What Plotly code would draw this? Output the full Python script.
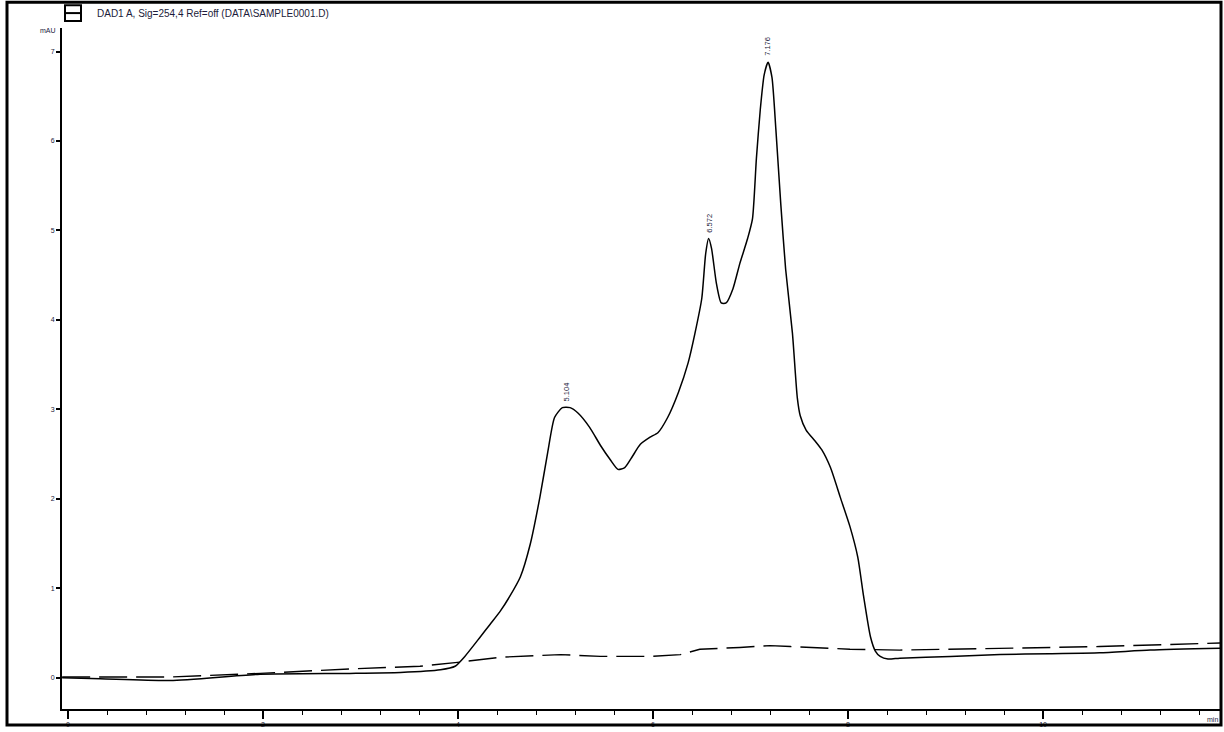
import plotly.graph_objects as go

# Retention time (min) and detector response (mAU) of the sample trace
sample_time = [-0.06, 0.33, 1.05, 1.97, 2.89, 3.41, 3.82, 3.97, 4.07, 4.23, 4.33, 4.43,
               4.53, 4.64, 4.74, 4.84, 4.92, 4.99, 5.07, 5.15, 5.23, 5.35, 5.46, 5.56,
               5.64, 5.71, 5.78, 5.87, 5.97, 6.05, 6.15, 6.26, 6.36, 6.43, 6.50, 6.54,
               6.57, 6.60, 6.65, 6.70, 6.75, 6.82, 6.89, 6.97, 7.02, 7.06, 7.10, 7.14,
               7.18, 7.22, 7.26, 7.31, 7.36, 7.43, 7.48, 7.51, 7.57, 7.66, 7.73, 7.82,
               7.92, 8.02, 8.10, 8.16, 8.23, 8.28, 8.33, 8.41, 8.53, 9.05, 9.56, 10.07,
               10.58, 11.10, 11.82]
sample_mau = [0.00, -0.01, -0.03, 0.04, 0.05, 0.06, 0.09, 0.13, 0.24, 0.46, 0.60, 0.74,
              0.91, 1.13, 1.49, 2.02, 2.52, 2.91, 3.02, 3.02, 2.96, 2.80, 2.60, 2.44,
              2.33, 2.35, 2.46, 2.61, 2.69, 2.74, 2.91, 3.19, 3.52, 3.85, 4.24, 4.74,
              4.91, 4.80, 4.41, 4.19, 4.19, 4.35, 4.63, 4.91, 5.13, 5.80, 6.35, 6.74,
              6.88, 6.71, 6.13, 5.30, 4.57, 3.85, 3.13, 2.93, 2.77, 2.65, 2.55, 2.35,
              2.02, 1.69, 1.35, 0.91, 0.46, 0.30, 0.24, 0.21, 0.22, 0.24, 0.26, 0.27,
              0.28, 0.31, 0.33]

# Blank / reference trace
blank_time = [-0.06, 1.05, 1.97, 2.89, 3.61, 3.97, 4.43, 5.05, 5.46, 5.97, 6.28, 6.48,
              6.89, 7.20, 7.41, 8.02, 8.53, 9.56, 10.58, 11.82]
blank_mau = [0.01, 0.01, 0.05, 0.10, 0.13, 0.17, 0.23, 0.26, 0.24, 0.24, 0.26, 0.32,
             0.34, 0.36, 0.35, 0.32, 0.31, 0.33, 0.35, 0.39]

# Integrated peaks: apex time, apex height, label
peak_time = [5.11, 6.57, 7.18]
peak_mau = [3.02, 4.91, 6.88]
peak_label = ["5.104", "6.572", "7.176"]

y_ticks = [0, 1, 2, 3, 4, 5, 6, 7]
x_ticks = [0, 2, 4, 6, 8, 10]

title_text = "DAD1 A, Sig=254,4 Ref=off (DATA\\SAMPLE0001.D)"

W, H = 1224, 732
L, R, T, B = 62, 4, 28, 19
pw, ph = W - L - R, H - T - B


def px(x):
    return (x - L) / pw


def py(y):
    return (H - B - y) / ph


fig = go.Figure()
fig.add_trace(go.Scatter(x=blank_time, y=blank_mau, mode="lines",
                         line=dict(color="black", width=1.4, dash="28px,9px"),
                         hoverinfo="skip"))
fig.add_trace(go.Scatter(x=sample_time, y=sample_mau, mode="lines",
                         line=dict(color="black", width=1.5, shape="spline", smoothing=0.6),
                         hoverinfo="skip"))

small = dict(family="Liberation Sans, Arial, sans-serif", size=7, color="#1b1b3a")

annotations = []
for t, h, lab in zip(peak_time, peak_mau, peak_label):
    annotations.append(dict(x=t, y=h, xref="x", yref="y", text=lab, showarrow=False,
                            textangle=-90, xanchor="center", yanchor="bottom",
                            yshift=4, font=dict(small, size=7.5)))

annotations += [
    dict(x=px(95), y=py(13), xref="paper", yref="paper", text=title_text, showarrow=False,
         xanchor="left", yanchor="middle", font=dict(small, size=10)),
    dict(x=px(58), y=py(31), xref="paper", yref="paper", text="mAU", showarrow=False,
         xanchor="right", yanchor="middle", font=small),
    dict(x=px(1220), y=py(724), xref="paper", yref="paper", text="min", showarrow=False,
         xanchor="right", yanchor="middle", font=small),
]

shapes = [
    # outer frame
    dict(type="rect", xref="paper", yref="paper", x0=px(7), x1=px(1221), y0=py(729), y1=py(2),
         line=dict(color="black", width=3), layer="above"),
    # legend symbol
    dict(type="rect", xref="paper", yref="paper", x0=px(65), x1=px(81), y0=py(21), y1=py(5),
         line=dict(color="black", width=2)),
    dict(type="line", xref="paper", yref="paper", x0=px(65), x1=px(81), y0=py(13), y1=py(13),
         line=dict(color="black", width=2)),
]

fig.update_layout(
    width=W, height=H,
    margin=dict(l=L, r=R, t=T, b=B),
    paper_bgcolor="white", plot_bgcolor="white",
    showlegend=False,
    annotations=annotations,
    shapes=shapes,
    xaxis=dict(range=[-0.0615, 11.815], tickvals=x_ticks, ticks="outside", ticklen=8,
               tickwidth=1.5, tickcolor="black", showline=True, linecolor="black",
               linewidth=2, showgrid=False, zeroline=False, tickfont=small,
               minor=dict(ticks="outside", ticklen=4, tickwidth=1.2, tickcolor="black",
                          dtick=0.4, showgrid=False)),
    yaxis=dict(range=[-0.348, 7.263], tickvals=y_ticks, ticks="outside", ticklen=4,
               tickwidth=1.5, tickcolor="black", showline=True, linecolor="black",
               linewidth=2, showgrid=False, zeroline=False, tickfont=small),
)

fig.write_html("out.html", config={"displayModeBar": False})
